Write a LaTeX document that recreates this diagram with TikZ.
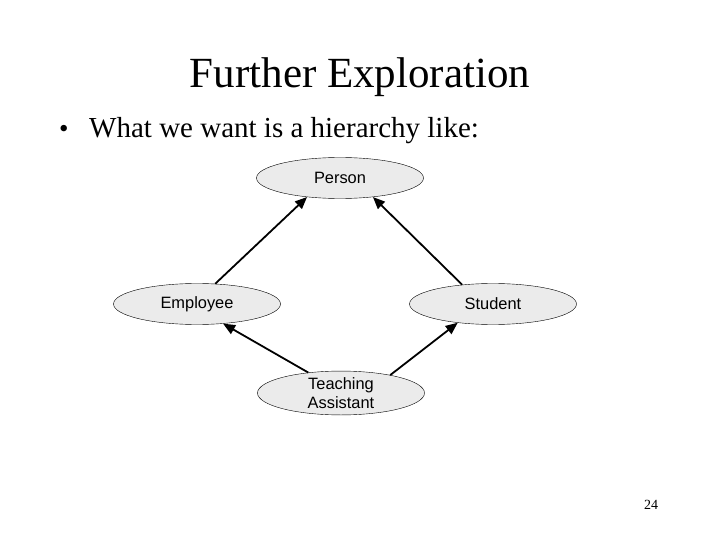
\documentclass[tikz,border=0pt]{standalone}
\usepackage{fontspec}
\setmainfont{Liberation Serif}
\newfontfamily\arialfont{Liberation Sans}
\usetikzlibrary{arrows.meta,shapes.geometric}

\tikzset{
  classnode/.style={ellipse, draw=black, thin, fill=black!8,
    minimum width=167pt, minimum height=41pt, inner sep=0pt,
    font=\arialfont\fontsize{16.4}{19}\selectfont, align=center},
  isa/.style={line width=1.8pt, -{Triangle[length=12pt,width=10pt]}}
}

\begin{document}
\begin{tikzpicture}[x=1pt,y=-1pt]
    \useasboundingbox (0,0) rectangle (720,540);

    % title and bullet
    \node[anchor=base, inner sep=0pt, font=\fontsize{43}{48}\selectfont] (title) at (360,88) {Further Exploration};
    \node[anchor=base west, inner sep=0pt, font=\fontsize{27}{32}\selectfont] (bullet) at (59,138) {\textbullet};
    \node[anchor=base west, inner sep=0pt, font=\fontsize{29}{34}\selectfont] (line) at (89,138) {What we want is a hierarchy like:};

    % classes
    \node[classnode] (person)   at (340,178) {Person};
    \node[classnode] (employee) at (197,304) {Employee};
    \node[classnode] (student)  at (493,304) {Student};
    \node[classnode] (ta)       at (341,393) {Teaching\\Assistant};

    % inheritance
    \draw[isa] (employee.48) -- (person.210);
    \draw[isa] (student.148) -- (person.330);
    \draw[isa] (ta.148) -- (employee.323);
    \draw[isa] (ta.20) -- (student.208);

    \node[anchor=base, inner sep=0pt, font=\fontsize{14}{16}\selectfont] (page) at (651,509) {24};
\end{tikzpicture}
\end{document}
